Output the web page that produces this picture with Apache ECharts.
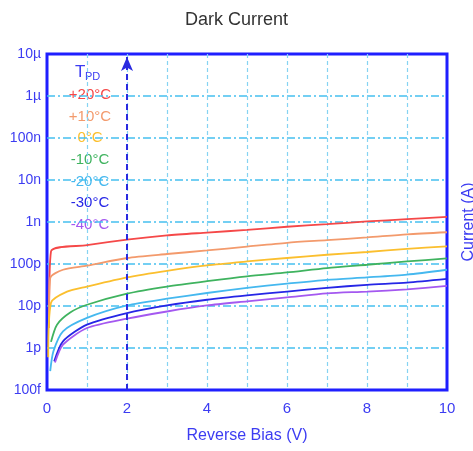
<!DOCTYPE html>
<html>
<head>
<meta charset="utf-8">
<script src="https://cdn.jsdelivr.net/npm/echarts@6/dist/echarts.min.js"></script>
<style>
  html, body { margin: 0; padding: 0; background: #fff; }
  #chart { width: 473px; height: 451px; }
</style>
</head>
<body>
<div id="chart"></div>
<script>
// temperature labels, top to bottom
const tempNames = ['+20°C', '+10°C', '0°C', '-10°C', '-20°C', '-30°C', '-40°C']
const tempColors = ['#f54848', '#f39a6c', '#fbbf2e', '#3fb35f', '#45b8ef', '#2626e6', '#a458f0']

// [reverse bias (V), dark current (A)]
const p20 = [[0.05, 3e-12], [0.1, 2.0e-10], [1, 2.8e-10], [2, 3.8e-10], [3, 4.8e-10], [4, 5.6e-10], [5, 6.5e-10], [6, 7.7e-10], [7, 8.9e-10], [8, 1.03e-9], [9, 1.17e-9], [10, 1.32e-9]]
const p10 = [[0.05, 3e-12], [0.08, 4.6e-11], [0.4, 7.3e-11], [1, 9.1e-11], [2, 1.39e-10], [3, 1.73e-10], [4, 2.1e-10], [5, 2.6e-10], [6, 3.2e-10], [7, 3.7e-10], [8, 4.3e-10], [9, 5.1e-10], [10, 5.7e-10]]
const p0 = [[0.03, 6e-13], [0.1, 1.2e-11], [0.5, 2.2e-11], [1, 2.9e-11], [2, 4.8e-11], [3, 6.9e-11], [4, 9.3e-11], [5, 1.15e-10], [6, 1.39e-10], [7, 1.66e-10], [8, 1.93e-10], [9, 2.3e-10], [10, 2.63e-10]]
const m10 = [[0.1, 1.4e-12], [0.25, 3.6e-12], [0.58, 7e-12], [1, 1.07e-11], [2, 1.97e-11], [3, 2.9e-11], [4, 3.9e-11], [5, 5.1e-11], [6, 6.3e-11], [7, 8e-11], [8, 9.6e-11], [9, 1.15e-10], [10, 1.36e-10]]
const m20 = [[0.08, 2.8e-13], [0.16, 8.3e-13], [0.4, 2.5e-12], [1, 5.2e-12], [2, 1.03e-11], [3, 1.49e-11], [4, 2.04e-11], [5, 2.7e-11], [6, 3.4e-11], [7, 4.2e-11], [8, 4.8e-11], [9, 5.6e-11], [10, 7.3e-11]]
const m30 = [[0.18, 4.8e-13], [0.4, 1.44e-12], [1, 3.6e-12], [2, 6.8e-12], [3, 1.03e-11], [4, 1.41e-11], [5, 1.79e-11], [6, 2.2e-11], [7, 2.7e-11], [8, 3.2e-11], [9, 3.6e-11], [10, 4.4e-11]]
const m40 = [[0.2, 4.5e-13], [0.4, 1.2e-12], [1, 3e-12], [2, 5e-12], [3, 7.4e-12], [4, 1.03e-11], [5, 1.29e-11], [6, 1.6e-11], [7, 2e-11], [8, 2.2e-11], [9, 2.5e-11], [10, 3.0e-11]]
const curves = [p20, p10, p0, m10, m20, m30, m40]

// y tick labels from 1e-13 to 1e-5
const yTickLabels = { '-13': '100f', '-12': '1p', '-11': '10p', '-10': '100p', '-9': '1n', '-8': '10n', '-7': '100n', '-6': '1µ', '-5': '10µ' }

const arrowV = 2

const blue = '#1f1fff'
const textBlue = '#3c3cf2'
const font = 'Liberation Sans'

const chart = echarts.init(document.getElementById('chart'))

const series = curves.map((d, i) => ({
  name: tempNames[i],
  type: 'line',
  data: d,
  smooth: 0.25,
  showSymbol: false,
  lineStyle: { color: tempColors[i], width: 1.8 },
  z: 3
}))

series[0].markLine = {
  silent: true,
  symbol: ['none', 'arrow'],
  symbolSize: [9, 14],
  label: { show: false },
  lineStyle: { color: '#2a2ae0', width: 2, type: [6, 4] },
  data: [[{ coord: [arrowV, 1e-13] }, { coord: [arrowV, 8.5e-6] }]]
}

const legendTexts = tempNames.map((n, i) => ({
  type: 'text',
  x: 90,
  y: 95 + i * 21.6,
  style: {
    text: n,
    fill: tempColors[i],
    font: '15px ' + font,
    align: 'center',
    verticalAlign: 'middle'
  }
}))

chart.setOption({
  animation: false,
  backgroundColor: '#fff',
  title: {
    text: 'Dark Current',
    left: 'center',
    top: 6,
    textStyle: { fontFamily: font, fontSize: 18, fontWeight: 'normal', color: '#333' }
  },
  grid: {
    left: 47,
    right: 26,
    top: 54,
    bottom: 61,
    outerBoundsMode: 'none',
    show: true,
    borderColor: blue,
    borderWidth: 3
  },
  xAxis: {
    type: 'value',
    min: 0,
    max: 10,
    interval: 1,
    name: 'Reverse Bias (V)',
    nameLocation: 'middle',
    nameGap: 38,
    nameTextStyle: { fontFamily: font, fontSize: 16, color: textBlue },
    axisLine: { show: false },
    axisTick: { show: false },
    axisLabel: {
      fontFamily: font,
      fontSize: 15,
      color: textBlue,
      margin: 11,
      formatter: v => (v % 2 === 0 ? String(v) : '')
    },
    splitLine: {
      show: true,
      showMinLine: false,
      showMaxLine: false,
      lineStyle: { color: '#86d3f2', width: 1.2, type: [4, 3] }
    }
  },
  yAxis: [
    {
      type: 'log',
      logBase: 10,
      min: 1e-13,
      max: 1e-5,
      axisLine: { show: false },
      axisTick: { show: false },
      minorTick: { show: false },
      axisLabel: {
        fontFamily: font,
        fontSize: 14,
        color: textBlue,
        margin: 6,
        formatter: v => yTickLabels[String(Math.round(Math.log10(v)))] || ''
      },
      splitLine: {
        show: true,
        showMinLine: false,
        showMaxLine: false,
        lineStyle: { color: '#45c0ef', width: 1.5, type: [8, 3, 2, 3] }
      }
    },
    {
      type: 'log',
      logBase: 10,
      min: 1e-13,
      max: 1e-5,
      position: 'right',
      name: 'Current (A)',
      nameLocation: 'middle',
      nameRotate: 90,
      nameGap: 14,
      nameTextStyle: { fontFamily: font, fontSize: 16, color: textBlue },
      axisLine: { show: false },
      axisTick: { show: false },
      axisLabel: { show: false },
      splitLine: { show: false }
    }
  ],
  graphic: [
    {
      type: 'text',
      x: 75,
      y: 64,
      style: { text: 'T', fill: textBlue, font: '17px ' + font }
    },
    {
      type: 'text',
      x: 85,
      y: 71,
      style: { text: 'PD', fill: textBlue, font: '11px ' + font }
    },
    ...legendTexts
  ],
  series
})
</script>
</body>
</html>
